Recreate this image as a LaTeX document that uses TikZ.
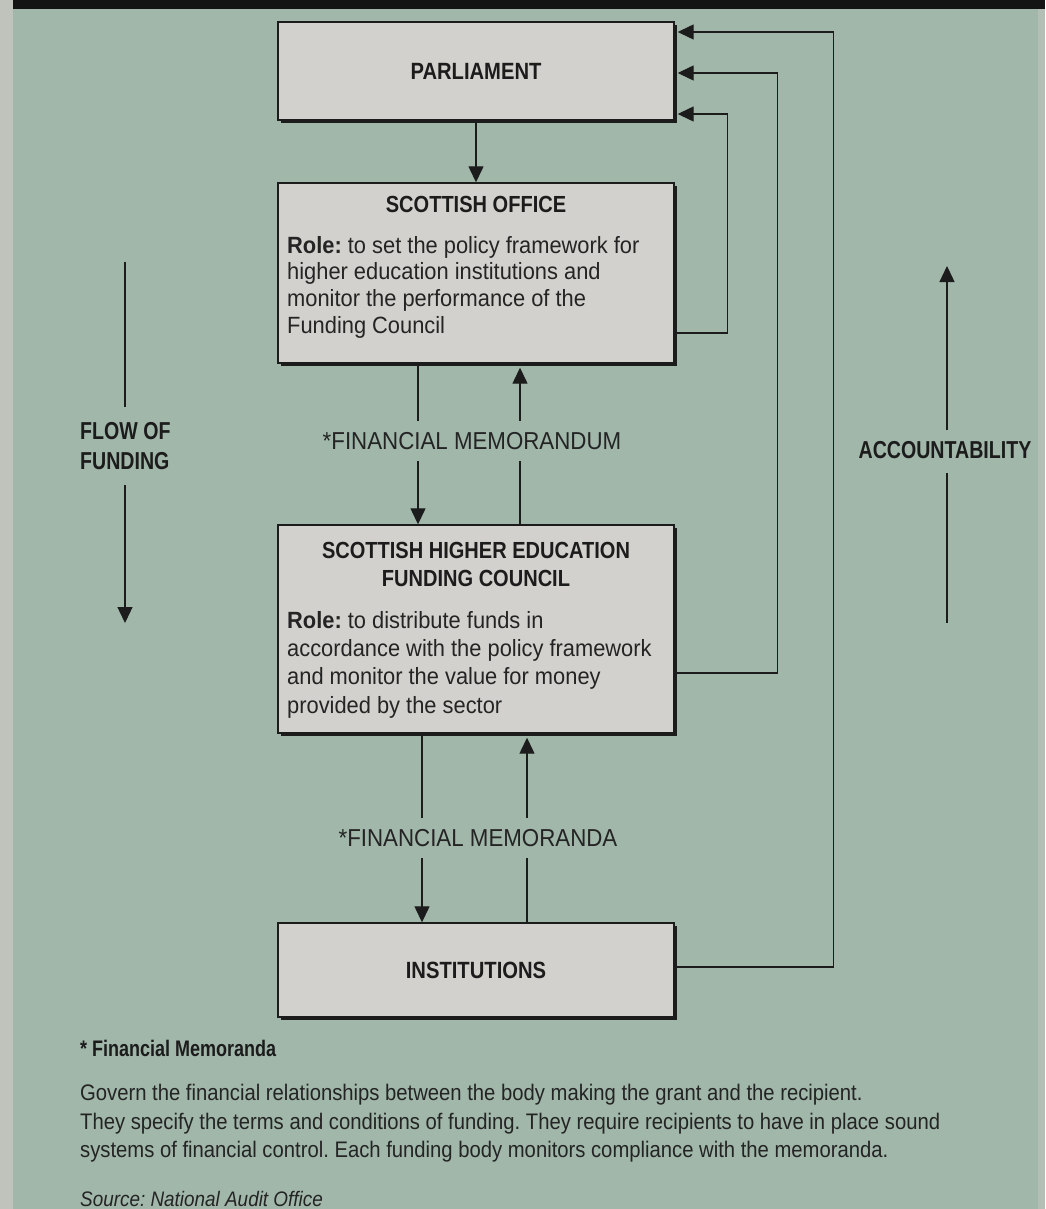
\documentclass[tikz,border=0pt]{standalone}
\usepackage{fontspec}
\setmainfont{Liberation Sans}
\newfontfamily\headf{Liberation Sans}[FakeStretch=0.86]
\newfontfamily\bodyf{Liberation Sans}[FakeStretch=0.93]
\newfontfamily\sidef{Liberation Sans}[FakeStretch=0.80]
\newfontfamily\lblf{Liberation Sans}[FakeStretch=0.91]
\newfontfamily\footf{Liberation Sans}[FakeStretch=0.90]
\usetikzlibrary{shadows,arrows.meta,calc}
\definecolor{bg}{RGB}{160,183,170}
\definecolor{boxfill}{RGB}{211,209,205}
\definecolor{ink}{RGB}{28,28,28}
\definecolor{txt}{RGB}{36,36,36}
\definecolor{margin}{RGB}{192,194,188}
\frenchspacing
\begin{document}
\begin{tikzpicture}[x=1pt,y=-1pt,
  box/.style={draw=ink, line width=1.4pt, fill=boxfill,
    drop shadow={shadow xshift=3pt, shadow yshift=-3pt, opacity=1, fill=ink},
    inner sep=0pt, minimum width=396pt, text=ink},
  conn/.style={draw=ink, line width=1.3pt},
  arr/.style={conn, -{Triangle[length=16pt,width=15pt]}},
  lbl/.style={fill=bg, inner xsep=4pt, inner ysep=0pt, minimum height=40pt, text=txt,
    font=\lblf\fontsize{24.5}{28}\selectfont},
  boxhead/.style={inner sep=0pt, text=ink, align=center,
    font=\headf\bfseries\fontsize{23.3}{28}\selectfont},
  boxbody/.style={inner sep=0pt, text=txt, align=left, anchor=north west},
  side/.style={inner sep=0pt, text=ink, font=\sidef\bfseries\fontsize{24.5}{30}\selectfont}
]
\useasboundingbox (0,0) rectangle (1045,1209);
% background
\fill[bg] (0,0) rectangle (1045,1209);
\fill[margin] (0,0) rectangle (13,1209);
\fill[margin!60!bg] (1038,0) rectangle (1045,1209);
\fill[ink!70!black] (13,0) rectangle (1045,9);

% boxes
\node[box, minimum height=98pt, font=\headf\bfseries\fontsize{23.5}{28}\selectfont] (parl) at (476,71) {PARLIAMENT};
\node[box, minimum height=180pt] (so) at (476,273) {};
\node[box, minimum height=208pt] (shefc) at (476,629) {};
\node[box, minimum height=94pt, font=\headf\bfseries\fontsize{23.5}{28}\selectfont] (inst) at (476,970) {INSTITUTIONS};

% box texts
\node[boxhead, anchor=north] (sohead) at (476,196) {SCOTTISH OFFICE};
\node[boxbody, font=\bodyf\fontsize{23.5}{26.7}\selectfont] (sobody) at (287,236)
  {\textbf{Role:} to set the policy framework for\\
   higher education institutions and\\
   monitor the performance of the\\
   Funding Council};
\node[boxhead, anchor=north] (shhead) at (476,542) {SCOTTISH HIGHER EDUCATION\\FUNDING COUNCIL};
\node[boxbody, font=\bodyf\fontsize{23.5}{28.3}\selectfont] (shbody) at (287,611)
  {\textbf{Role:} to distribute funds in\\
   accordance with the policy framework\\
   and monitor the value for money\\
   provided by the sector};

% vertical connectors
\draw[arr] (parl.south) -- (so.north);
\draw[arr] ([xshift=-58pt]so.south) -- ([xshift=-58pt]shefc.north);
\draw[arr] ([xshift=44pt,yshift=-1pt]shefc.north) -- ([xshift=44pt,yshift=-4pt]so.south);
\draw[arr] ([xshift=-54pt]shefc.south) -- ([xshift=-54pt]inst.north);
\draw[arr] ([xshift=51pt,yshift=-1pt]inst.north) -- ([xshift=51pt,yshift=-4pt]shefc.south);

% labels over connectors
\node[lbl] (fm1) at (472,441) {*FINANCIAL MEMORANDUM};
\node[lbl] (fm2) at (478,838) {*FINANCIAL MEMORANDA};

% accountability feedback lines
\draw[arr] ($(so.east)+(0,60)$) -- ++(53,0) |- ([xshift=3pt,yshift=-43pt]parl.east);
\draw[arr] ($(shefc.east)+(0,44)$) -- ++(103,0) |- ([xshift=3pt,yshift=-2pt]parl.east);
\draw[arr] ($(inst.east)+(0,-3)$) -- ++(159,0) |- ([xshift=3pt,yshift=39pt]parl.east);

% side labels
\node[side, anchor=west, align=left] (flow) at (80,446) {FLOW OF\\FUNDING};
\coordinate (f1) at (125,262);
\coordinate (f2) at (125,407);
\coordinate (f3) at (125,485);
\coordinate (f4) at (125,623);
\draw[conn] (f1) -- (f2);
\draw[arr] (f3) -- (f4);

\node[side] (acc) at (945,450) {ACCOUNTABILITY};
\coordinate (a1) at (947,623);
\coordinate (a2) at (947,473);
\coordinate (a3) at (947,430);
\coordinate (a4) at (947,266);
\draw[conn] (a1) -- (a2);
\draw[arr] (a3) -- (a4);

% footnote
\node[anchor=base west, inner sep=0pt, text=ink, font=\sidef\bfseries\fontsize{22.5}{28}\selectfont] (fnhead) at (80,1056) {* Financial Memoranda};
\node[anchor=north west, inner sep=0pt, text=txt, align=left, font=\footf\fontsize{22.5}{28.6}\selectfont] (fnbody) at (80,1084)
  {Govern the financial relationships between the body making the grant and the recipient.\\
   They specify the terms and conditions of funding. They require recipients to have in place sound\\
   systems of financial control. Each funding body monitors compliance with the memoranda.};
\node[anchor=base west, inner sep=0pt, text=txt, font=\footf\itshape\fontsize{21}{26}\selectfont] (src) at (80,1206) {Source: National Audit Office};
\end{tikzpicture}
\end{document}
